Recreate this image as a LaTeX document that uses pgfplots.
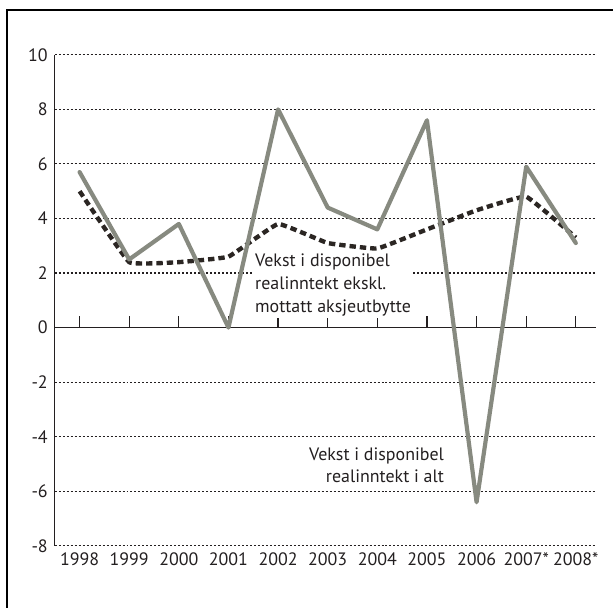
\documentclass[border=0pt]{standalone}
\usepackage{fontspec}
\setmainfont{PT Sans}
\usepackage{pgfplots}
\pgfplotsset{compat=1.18}
\definecolor{cInk}{HTML}{231F20}
\definecolor{cTotal}{HTML}{878A80}
\definecolor{cExcl}{HTML}{2B2623}

\begin{document}
\begin{tikzpicture}
\begin{axis}[
    scale only axis, width=271.5pt, height=246.5pt,
    xmin=-0.5, xmax=10.4, ymin=-8, ymax=10,
    xtick={0,...,10},
    xticklabels={1998,1999,2000,2001,2002,2003,2004,2005,2006,2007*,2008*},
    ytick={-8,-6,...,10},
    major tick length=0pt,
    axis line style={draw=none},
    ymajorgrids,
    grid style={cInk, dash pattern=on 1pt off 1pt, line width=0.55pt},
    tick label style={font=\fontsize{9}{11}\selectfont, text=cInk},
    /pgf/number format/assume math mode=true,
    clip=false,
]
% axis lines and ticks on the zero line
\draw[cInk, line width=0.6pt] (axis cs:-0.5,-8) -- (axis cs:-0.5,10);
\draw[cInk, line width=0.7pt] (axis cs:-0.5,0) -- (axis cs:10.4,0);
\pgfplotsinvokeforeach{0,...,10}{
  \draw[cInk, line width=0.6pt] (axis cs:#1,0) -- (axis cs:#1,0.42);
}

\node[anchor=north west, align=left, fill=white, inner sep=1pt,
      font=\fontsize{9}{11.5}\selectfont, text=cInk]
  at (axis cs:3.49,2.8) {Vekst i disponibel\\realinntekt ekskl.\\mottatt aksjeutbytte};

% excl. dividends
\addplot[cExcl, line width=2.2pt, dash pattern=on 3.2pt off 2pt, smooth, tension=0.15]
  coordinates {(0,5.0) (1,2.4) (2,2.4) (3,2.6) (4,3.8) (5,3.1) (6,2.9) (7,3.6) (8,4.3) (9,4.8) (10,3.3)};
% total
\addplot[cTotal, line width=2.1pt, line join=round, line cap=round]
  coordinates {(0,5.7) (1,2.5) (2,3.8) (3,0.0) (4,8.0) (5,4.4) (6,3.6) (7,7.6) (8,-6.4) (9,5.9) (10,3.1)};

\node[anchor=north east, align=right, inner sep=1pt,
      font=\fontsize{9}{11.5}\selectfont, text=cInk]
  at (axis cs:7.39,-4.3) {Vekst i disponibel\\realinntekt i alt};
\end{axis}
\pgfresetboundingbox
\path (-27.5pt,-30pt) rectangle (279.5pt,274pt);
\draw[black, line width=1.4pt] (-24pt,-31pt) -- (-24pt,269pt) -- (280pt,269pt);
\end{tikzpicture}
\end{document}
